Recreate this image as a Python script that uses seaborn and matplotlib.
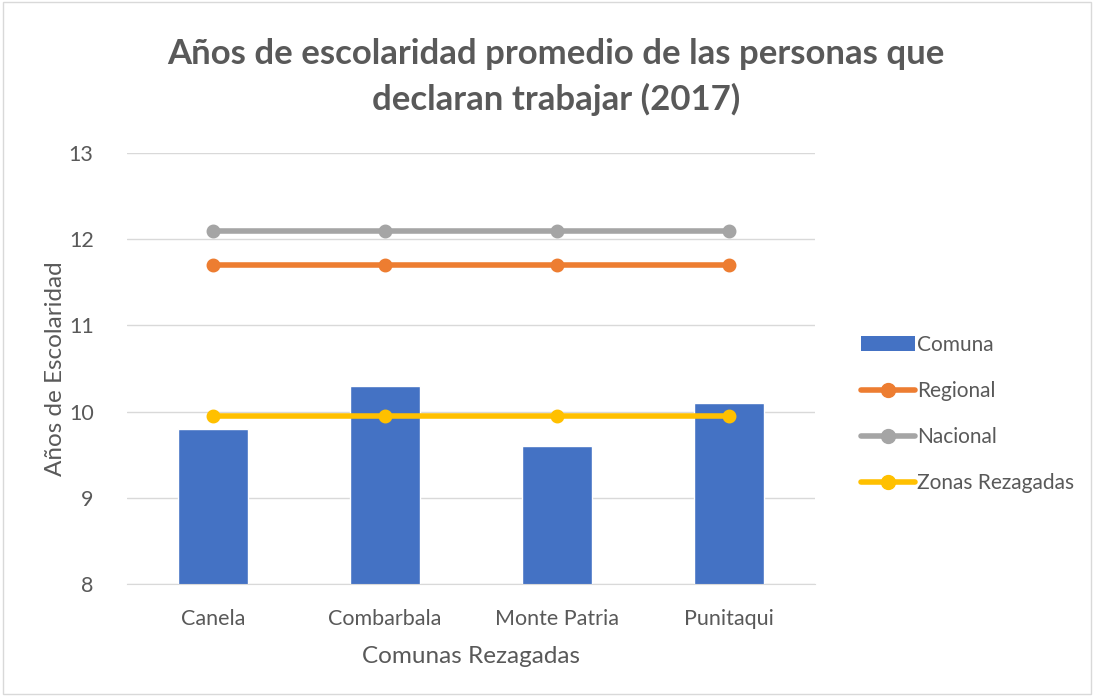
import matplotlib
matplotlib.use("Agg")
import matplotlib.pyplot as plt
import seaborn as sns
from matplotlib.lines import Line2D
from matplotlib.patches import Patch

# --- Data ---
comunas = ["Canela", "Combarbala", "Monte Patria", "Punitaqui"]
comuna_vals = [9.8, 10.3, 9.6, 10.1]
regional_vals = [11.7, 11.7, 11.7, 11.7]
nacional_vals = [12.1, 12.1, 12.1, 12.1]
zonas_vals = [9.95, 9.95, 9.95, 9.95]

BLUE = "#4472C4"
ORANGE = "#ED7D31"
GRAY = "#A5A5A5"
YELLOW = "#FFC000"
TEXT = "#595959"

sns.set_style("white")
plt.rcParams["font.family"] = ["Lato", "DejaVu Sans"]

fig = plt.figure(figsize=(10.94, 6.96), dpi=100)
ax = fig.add_axes([127 / 1094, 1 - 584 / 696, 688 / 1094, 431 / 696])

sns.barplot(x=comunas, y=comuna_vals, color=BLUE, width=0.41, saturation=1, ax=ax)

for vals, col in [(regional_vals, ORANGE), (nacional_vals, GRAY), (zonas_vals, YELLOW)]:
    sns.pointplot(x=comunas, y=vals, color=col, markers="o", linestyles="-",
                  markersize=7, linewidth=4, errorbar=None, ax=ax)

ax.set_ylim(8, 13)
ax.set_xlim(-0.5, 3.5)
ax.set_yticks([8, 9, 10, 11, 12, 13])
ax.yaxis.grid(True, color="#D9D9D9", linewidth=1)
ax.set_axisbelow(True)
for s in ["top", "right", "left"]:
    ax.spines[s].set_visible(False)
ax.spines["bottom"].set_color("#D9D9D9")
ax.tick_params(axis="both", length=0, labelsize=15.5, colors=TEXT)
ax.tick_params(axis="x", pad=18)
ax.tick_params(axis="y", pad=24)
ax.set_xlabel("Comunas Rezagadas", fontsize=17.5, color=TEXT, labelpad=12)
ax.set_ylabel("Años de Escolaridad", fontsize=17.5, color=TEXT, labelpad=2)

fig.suptitle("Años de escolaridad promedio de las personas que\ndeclaran trabajar (2017)",
             x=0.508, y=0.945, fontsize=25, fontweight="bold", color=TEXT, linespacing=1.45)

handles = [
    Patch(facecolor=BLUE, edgecolor="none"),
    Line2D([0], [0], color=ORANGE, lw=4, marker="o", markersize=10),
    Line2D([0], [0], color=GRAY, lw=4, marker="o", markersize=10),
    Line2D([0], [0], color=YELLOW, lw=4, marker="o", markersize=10),
]
labels = ["Comuna", "Regional", "Nacional", "Zonas Rezagadas"]
fig.legend(handles, labels, loc="center left", bbox_to_anchor=(842 / 1094, 1 - 414 / 696),
           frameon=False, fontsize=15, labelcolor=TEXT, handlelength=2.6,
           handletextpad=0.1, labelspacing=1.25)

# outer border
fig.patches.append(plt.Rectangle((0.003, 0.003), 0.994, 0.994, transform=fig.transFigure,
                                 fill=False, edgecolor="#D9D9D9", linewidth=1))

fig.savefig("out.png", dpi=100)
